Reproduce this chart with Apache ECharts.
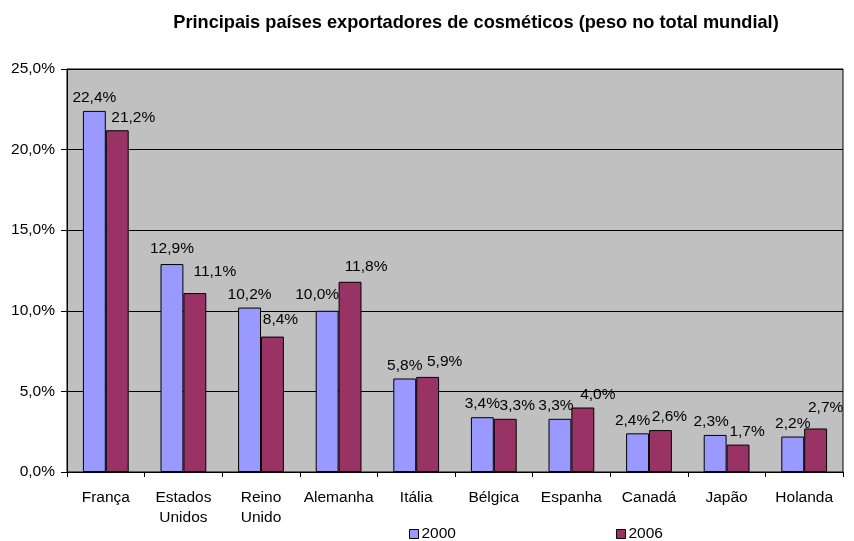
<!DOCTYPE html>
<html>
<head>
<meta charset="utf-8">
<script src="https://cdn.jsdelivr.net/npm/echarts@6/dist/echarts.min.js"></script>
<style>
html,body{margin:0;padding:0;background:#fff;}
#chart{width:854px;height:541px;}
</style>
</head>
<body>
<div id="chart"></div>
<script>
const titleText = 'Principais países exportadores de cosméticos (peso no total mundial)';
const categories = ['França', 'Estados\nUnidos', 'Reino\nUnido', 'Alemanha', 'Itália', 'Bélgica', 'Espanha', 'Canadá', 'Japão', 'Holanda'];
const values2000 = [22.4, 12.9, 10.2, 10.0, 5.8, 3.4, 3.3, 2.4, 2.3, 2.2];
const values2006 = [21.2, 11.1, 8.4, 11.8, 5.9, 3.3, 4.0, 2.6, 1.7, 2.7];
const seriesNames = ['2000', '2006'];

// hand-placed data label nudges [dx, dy] so neighbouring labels don't collide
const labelShift2000 = [[0, 0], [0, -2], [0, 0], [-10, -3], [0, 0], [0, 0], [-4, 0], [-5, 0], [-4, 0], [0, 0]];
const labelShift2006 = [[16, 0], [20, -8], [8, -4], [16, -2], [17, -2], [12, 0], [15, 0], [9, 0], [9, 0], [10, -8]];

const fmt = v => v.toFixed(1).replace('.', ',') + '%';
const font = 'Liberation Sans, Arial, sans-serif';
const fs = 15.5;

const labelStyle = { show: true, position: 'top', distance: 5, fontFamily: font, fontSize: fs, color: '#000', formatter: p => fmt(p.value) };
const withShift = (vals, shifts) => vals.map((v, i) => ({ value: v, label: { offset: shifts[i] } }));

const chart = echarts.init(document.getElementById('chart'));
chart.setOption({
  animation: false,
  backgroundColor: '#ffffff',
  title: {
    text: titleText,
    left: 471, top: 9, textAlign: 'center',
    textStyle: { fontFamily: font, fontSize: 18.2, fontWeight: 'bold', color: '#000' }
  },
  legend: {
    data: seriesNames,
    top: 526, left: 409,
    padding: 0,
    itemGap: 160,
    itemWidth: 9, itemHeight: 9,
    icon: 'rect',
    textStyle: { fontFamily: font, fontSize: fs, color: '#000', padding: [0, 0, 0, -2] },
    itemStyle: { borderColor: '#000', borderWidth: 1 }
  },
  grid: {
    left: 67, right: 11, top: 69, bottom: 69,
    show: true, backgroundColor: '#C0C0C0', borderColor: '#000', borderWidth: 1
  },
  xAxis: {
    type: 'category',
    data: categories,
    axisLine: { lineStyle: { color: '#000' } },
    axisTick: { show: true, alignWithLabel: false, length: 5, lineStyle: { color: '#000' } },
    axisLabel: { fontFamily: font, fontSize: fs, color: '#000', margin: 16, lineHeight: 20, interval: 0 }
  },
  yAxis: {
    type: 'value',
    min: 0, max: 25, interval: 5,
    axisLine: { show: true, lineStyle: { color: '#000' } },
    axisTick: { show: true, length: 6, lineStyle: { color: '#000' } },
    splitLine: { lineStyle: { color: '#000', width: 1 } },
    axisLabel: { fontFamily: font, fontSize: fs, color: '#000', margin: 12, formatter: v => fmt(v) }
  },
  series: [
    {
      name: seriesNames[0], type: 'bar', data: withShift(values2000, labelShift2000),
      barGap: '0%', barCategoryGap: '41%',
      itemStyle: { color: '#9999FF', borderColor: '#000', borderWidth: 1 },
      label: labelStyle
    },
    {
      name: seriesNames[1], type: 'bar', data: withShift(values2006, labelShift2006),
      itemStyle: { color: '#993366', borderColor: '#000', borderWidth: 1 },
      label: labelStyle
    }
  ]
});
</script>
</body>
</html>
